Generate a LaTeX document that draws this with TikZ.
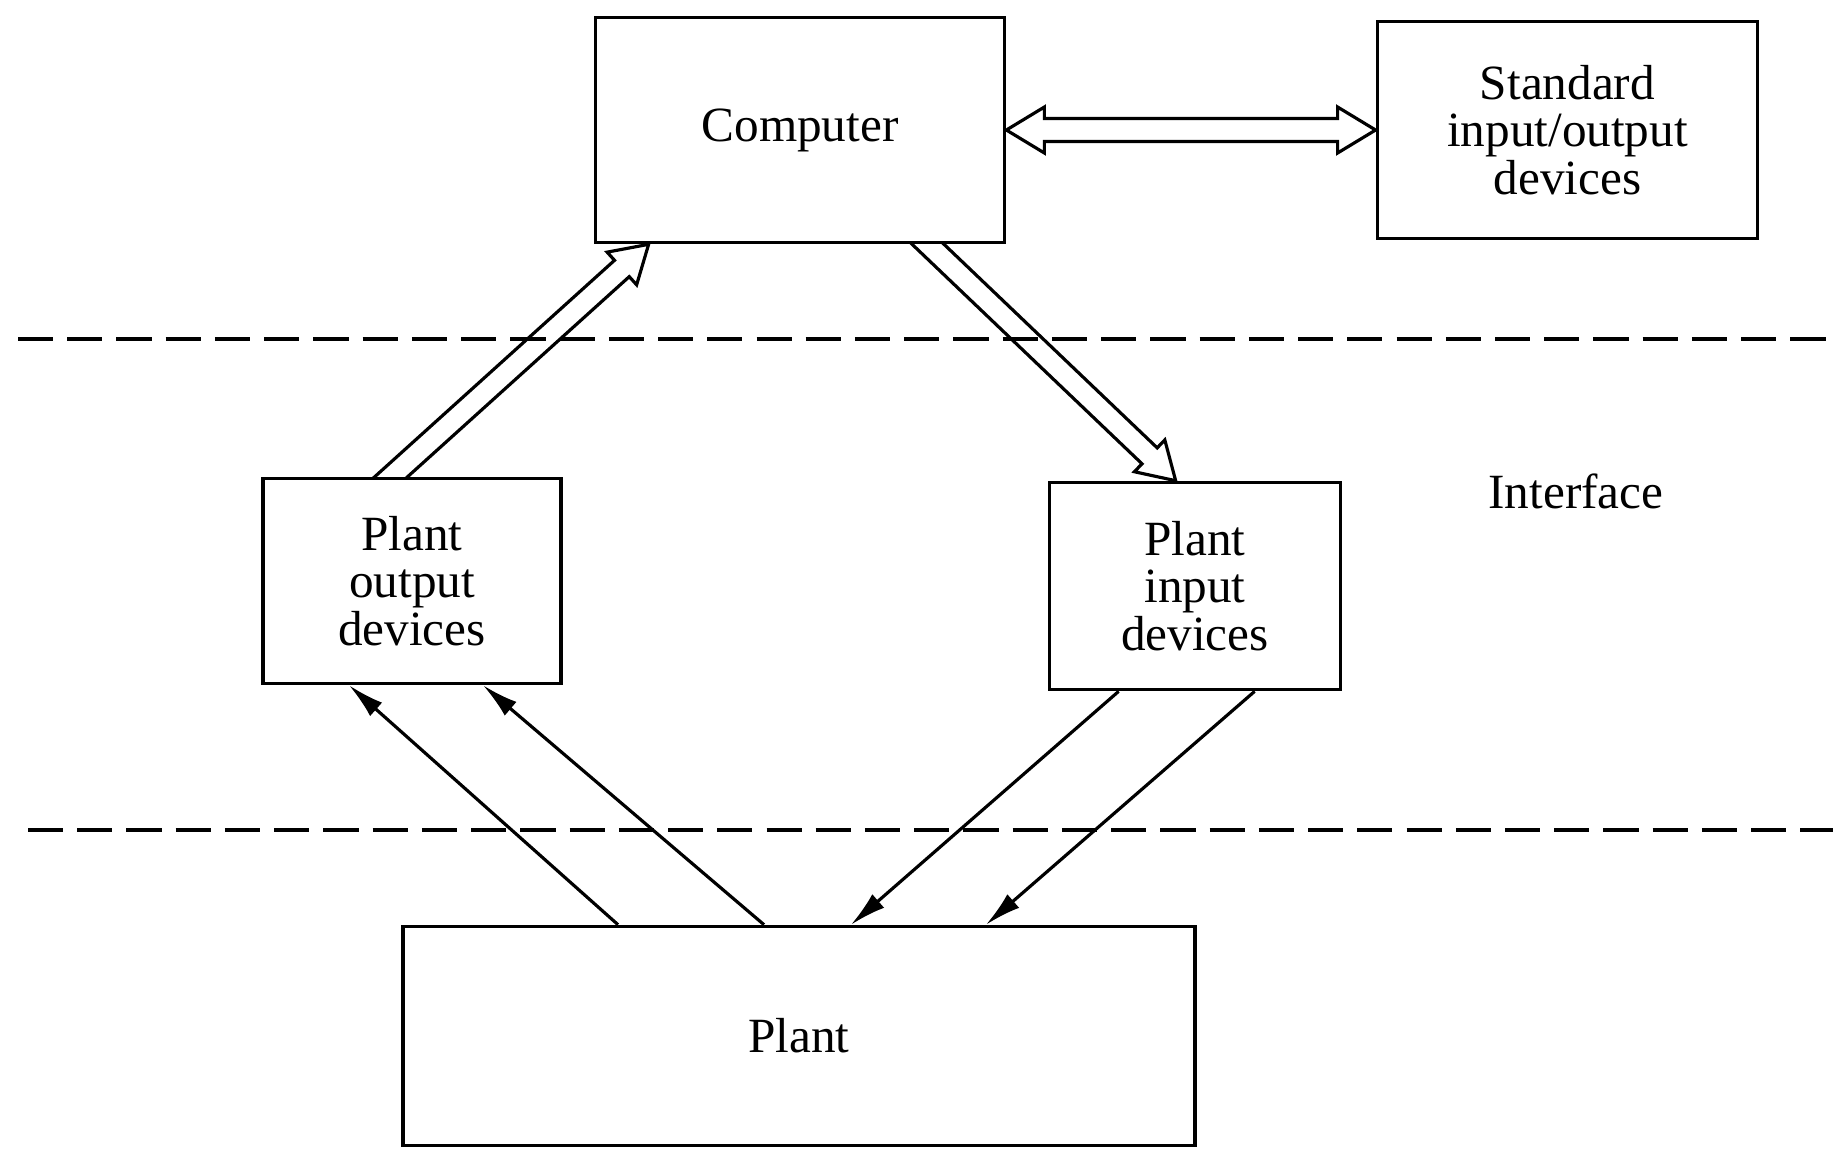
\documentclass[tikz,border=0pt]{standalone}
\usepackage{fontspec}
\setmainfont{Liberation Serif}
\usetikzlibrary{positioning,arrows.meta,calc,backgrounds}
\tikzset{
  blk/.style   ={draw, fill=white, line width=1pt, align=center, inner sep=0pt,
                 font=\fontsize{14}{13.5}\selectfont},
  lbl/.style   ={font=\fontsize{14}{13.5}\selectfont},
  % outlined (hollow) arrow, open at its tail
  hollow/.style={line width=0.9pt, line join=miter, to path={
      ($(\tikztostart)!1.1mm!90:(\tikztotarget)$)
   -- ($(\tikztotarget)!3.6mm!(\tikztostart)!1.1mm!90:(\tikztotarget)$)
   -- ($(\tikztotarget)!3.6mm!(\tikztostart)!2.2mm!90:(\tikztotarget)$)
   -- (\tikztotarget)
   -- ($(\tikztotarget)!3.6mm!(\tikztostart)!2.2mm!-90:(\tikztotarget)$)
   -- ($(\tikztotarget)!3.6mm!(\tikztostart)!1.1mm!-90:(\tikztotarget)$)
   -- ($(\tikztostart)!1.1mm!-90:(\tikztotarget)$)}},
  hollowboth/.style={line width=0.9pt, line join=miter, to path={
      (\tikztostart)
   -- ($(\tikztostart)!3.8mm!(\tikztotarget)!2.3mm!90:(\tikztotarget)$)
   -- ($(\tikztostart)!3.8mm!(\tikztotarget)!1.15mm!90:(\tikztotarget)$)
   -- ($(\tikztotarget)!3.8mm!(\tikztostart)!1.15mm!90:(\tikztotarget)$)
   -- ($(\tikztotarget)!3.8mm!(\tikztostart)!2.3mm!90:(\tikztotarget)$)
   -- (\tikztotarget)
   -- ($(\tikztotarget)!3.8mm!(\tikztostart)!2.3mm!-90:(\tikztotarget)$)
   -- ($(\tikztotarget)!3.8mm!(\tikztostart)!1.15mm!-90:(\tikztotarget)$)
   -- ($(\tikztostart)!3.8mm!(\tikztotarget)!1.15mm!-90:(\tikztotarget)$)
   -- ($(\tikztostart)!3.8mm!(\tikztotarget)!2.3mm!-90:(\tikztotarget)$)
   -- cycle}},
  sig/.style   ={line width=0.9pt, -{Latex[length=3.6mm,width=1.8mm]}},
  bound/.style ={dash pattern=on 10pt off 4pt, line width=1pt},
}

\begin{document}
\begin{tikzpicture}[x=0.01cm, y=-0.01cm]
  \useasboundingbox (0,0) rectangle (1833,1150);

  \node[blk, minimum width=4.09cm, minimum height=2.25cm] (comp) at (800,130) {Computer};
  \node[blk, minimum width=3.80cm, minimum height=2.17cm, right=3.69cm of comp] (stdio)
        {Standard\\ input/output\\ devices};

  \node[blk, minimum width=2.98cm, minimum height=2.05cm] (pout) at (412,581)
        {Plant\\ output\\ devices};
  \node[blk, minimum width=2.91cm, minimum height=2.07cm] (pin) at (1195,586)
        {Plant\\ input\\ devices};
  \node[lbl] (iface) at (1576,491) {Interface};

  \node[blk, minimum width=7.92cm, minimum height=2.19cm] (plant) at (799,1036) {Plant};

  % interface boundaries
  \draw[bound] (18,339) -- (1833,339);
  \draw[bound] (28,830) -- (1833,830);

  % data paths to and from the computer (tails tucked under the boxes)
  \coordinate (upA) at ($(pout.north west)+(119,10)$);
  \coordinate (upB) at ($(comp.south west)+(55,0)$);
  \coordinate (dnA) at ($(comp.south west)+(324,-10)$);
  \coordinate (dnB) at ($(pin.north west)+(128,0)$);
  \draw[hollowboth] (comp.east) to (stdio.west);
  \begin{scope}[on background layer]
    \draw[hollow] (upA) to (upB);
    \draw[hollow] (dnA) to (dnB);
  \end{scope}

  % plant signals
  \draw[sig] ($(plant.north west)+(217,0)$) -- ($(pout.south west)+(88,0)$);
  \draw[sig] ($(plant.north west)+(363,0)$) -- ($(pout.south west)+(222,0)$);
  \draw[sig] ($(pin.south west)+(71,0)$) -- ($(plant.north west)+(450,0)$);
  \draw[sig] ($(pin.south west)+(207,0)$) -- ($(plant.north west)+(585,0)$);
\end{tikzpicture}
\end{document}
